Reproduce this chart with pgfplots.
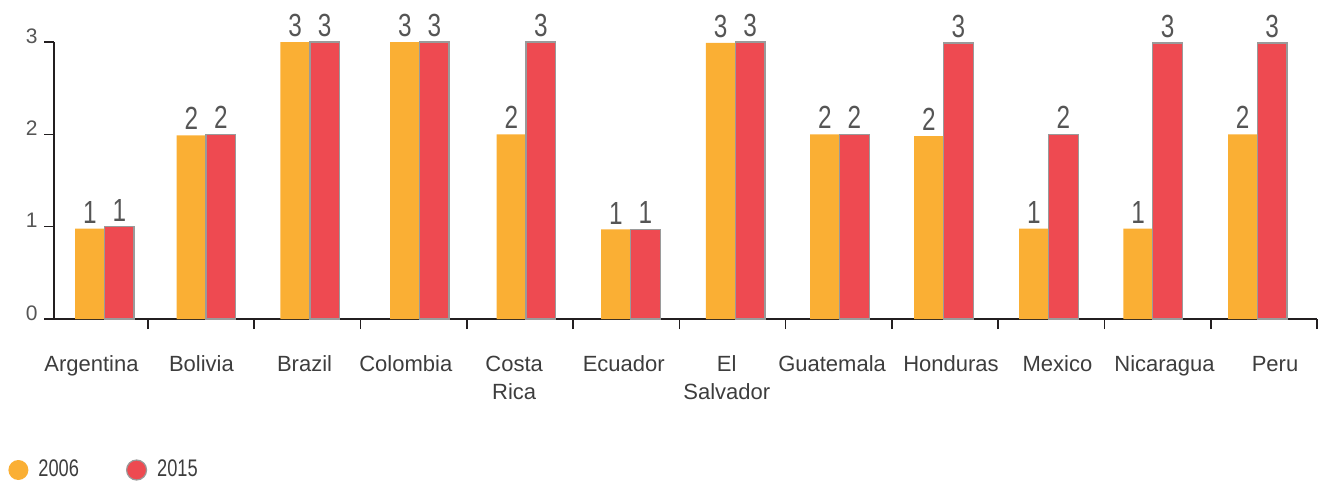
\documentclass[border=0pt]{standalone}
\usepackage{pgfplots}
\pgfplotsset{compat=1.18}
\usepackage{pgfplotstable}
\usepackage{fontspec}
\setmainfont{Liberation Sans}
\newfontfamily\numfont[FakeStretch=0.76]{Liberation Sans}

\definecolor{c2006}{HTML}{FAAF34}
\definecolor{c2015}{HTML}{EE4A51}
\definecolor{edgegray}{HTML}{9A9A9A}
\definecolor{axisblack}{HTML}{231F20}
\definecolor{labelgray}{HTML}{3D3D3D}
\definecolor{numgray}{HTML}{555555}

% Index scores per country, 2006 and 2015 (pos = centre of the bar pair)
\pgfplotstableread{
pos    y2006 y2015
0.091  0.98 1.00
1.046  1.99 2.00
2.024  3.00 3.00
3.055  3.00 3.00
4.057  2.00 3.00
5.042  0.97 0.97
6.028  2.99 3.00
7.009  2.00 2.00
7.987  1.98 2.99
8.975  0.98 2.00
9.955  0.98 2.99
10.940 2.00 2.99
}\scores

\begin{document}
\begin{tikzpicture}
\useasboundingbox (-27pt,-82pt) rectangle (633.5pt,159.5pt);
\begin{axis}[
  at={(0,0)}, anchor=south west,
  scale only axis, width=631.5pt, height=138.5pt,
  xmin=-0.3845, xmax=11.5, ymin=0, ymax=3,
  ybar=0pt, bar width=14.75pt,
  clip=false,
  axis x line*=bottom, axis y line*=left,
  axis line style={axisblack, line width=1pt, -},
  tick align=outside,
  major tick length=5pt, minor tick length=5pt,
  xtick={-0.032,1.003,1.973,2.926,3.946,4.977,5.946,6.937,8.056,9.058,10.065,11.105},
  xticklabels={Argentina,Bolivia,Brazil,Colombia,Costa\\Rica,Ecuador,El\\Salvador,Guatemala,Honduras,Mexico,Nicaragua,Peru},
  minor xtick={0.5,1.5,...,11.5},
  major x tick style={draw=none},
  minor x tick style={draw=axisblack, line width=0.8pt},
  ytick={0,1,2,3},
  major y tick style={draw=axisblack, line width=0.8pt},
  xticklabel style={align=center, font=\fontsize{11}{14}\selectfont, text=labelgray, inner sep=0pt, anchor=north, yshift=-13.3pt},
  yticklabel style={font=\fontsize{10.5}{10.5}\selectfont, text=numgray, inner sep=0pt, anchor=east, xshift=-3pt, yshift=3pt},
  /pgf/number format/.cd, fixed, precision=0, assume math mode=true, /pgfplots/.cd,
  nodes near coords,
  nodes near coords style={font=\numfont\fontsize{16}{16}\selectfont, text=numgray, inner sep=0pt, anchor=south, yshift=2.5pt},
  legend columns=2,
  legend style={draw=none, fill=none, inner sep=0pt, at={(0,0)}, anchor=west,
    xshift=-23pt, yshift=-75.5pt,
    font=\numfont\fontsize{12}{12}\selectfont, text=labelgray,
    nodes={inner sep=0pt},
    /tikz/every odd column/.append style={column sep=5pt},
    /tikz/every even column/.append style={column sep=23.5pt}},
]
\addplot[fill=c2006, draw=none,
  legend image code/.code={\fill[c2006] (5pt,0pt) circle (5pt);}]
  table[x=pos, y=y2006] {\scores};
\addlegendentry{2006}
\addplot[fill=c2015, draw=edgegray, line width=0.6pt,
  legend image code/.code={\filldraw[fill=c2015, draw=edgegray, line width=0.6pt] (5pt,0pt) circle (5pt);}]
  table[x=pos, y=y2015] {\scores};
\addlegendentry{2015}
\end{axis}
\end{tikzpicture}
\end{document}
